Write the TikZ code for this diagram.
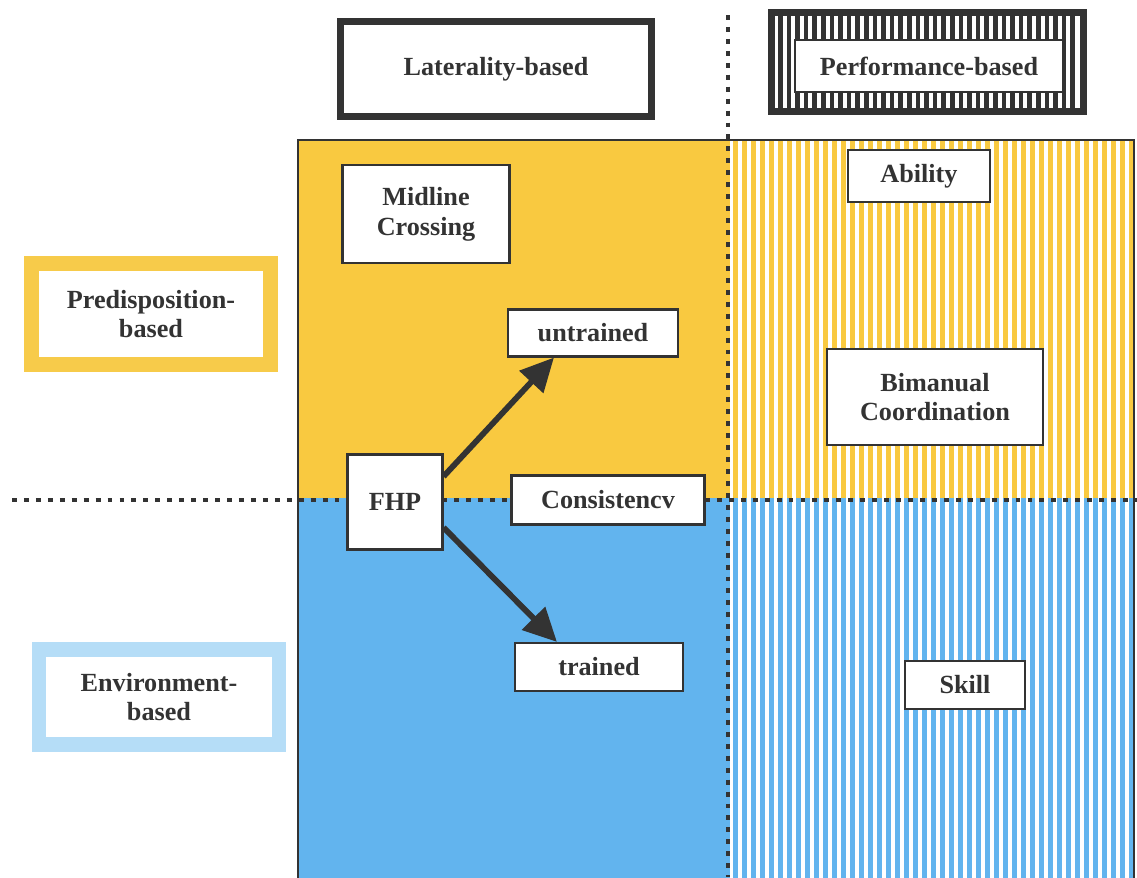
\documentclass[tikz,border=0pt]{standalone}
\usepackage{fontspec}
\setmainfont{Liberation Serif}
\usetikzlibrary{arrows.meta,calc}
\definecolor{yel}{HTML}{F9C940}
\definecolor{blu}{HTML}{62B4EE}
\definecolor{lblu}{HTML}{B5DDF7}
\definecolor{yframe}{HTML}{F7CB4A}
\definecolor{ink}{HTML}{333333}
\tikzset{
  lbl/.style={draw=ink, fill=white, line width=1.2pt, text=ink, align=center,
    font=\fontsize{14.9}{17}\selectfont\bfseries, inner sep=0pt},
  frame/.style={fill=white, line width=8pt, text=ink, align=center,
    font=\fontsize{14.9}{17}\selectfont\bfseries, inner sep=0pt},
  dotline/.style={draw=ink, line width=2.8pt, dash pattern=on 2.8pt off 4pt},
  arr/.style={draw=ink, line width=3.3pt, -{Triangle[length=19pt,width=18pt]}},
}
\begin{document}
\begin{tikzpicture}[x=0.02cm,y=-0.02cm]
\useasboundingbox (0,0) rectangle (1137,877);
\fill[white] (0,0) rectangle (1137,877);
% quadrants
\fill[yel] (298,140) rectangle (730,498);
\fill[blu] (298,498) rectangle (730,880);
\foreach \x in {733,742,...,1133} {
  \fill[yel] (\x,140) rectangle ++(5,358);
  \fill[blu] (\x,498) rectangle ++(5,382);
}
\draw[ink, line width=1pt] (298,880) -- (298,140) -- (1134,140) -- (1134,880);
% dotted dividers
\draw[dotline] (728,15) -- (728,877);
\draw[dotline] (12,500) -- (1137,500);
% header boxes
\node[frame, draw=ink, line width=4pt, minimum width=311*0.02cm, minimum height=95*0.02cm] (lat) at (496,69) {Laterality-based};
\fill[ink] (768,9) rectangle (1087,115);
\fill[white] (775,16) rectangle (1080,108);
\foreach \x in {778,786.6,...,1078} {
  \fill[ink] (\x,16) rectangle ++(4.6,92);
}
\node[lbl, minimum width=268*0.02cm, minimum height=52*0.02cm] (perf) at (929,66) {Performance-based};
% side frames
\node[frame, draw=yframe, minimum width=239*0.02cm, minimum height=101*0.02cm] (pred) at (151,314) {Predisposition-\\based};
\node[frame, draw=lblu, minimum width=240*0.02cm, minimum height=95*0.02cm] (env) at (159,697) {Environment-\\based};
% inner labels
\node[lbl, minimum width=167*0.02cm, minimum height=98*0.02cm] (mid) at (426,214) {Midline\\Crossing};
\node[lbl, minimum width=142*0.02cm, minimum height=52*0.02cm] (abil) at (919,176) {Ability};
\node[lbl, minimum width=170*0.02cm, minimum height=47*0.02cm] (untr) at (593,333) {untrained};
\node[lbl, minimum width=216*0.02cm, minimum height=96*0.02cm] (bim) at (935,397) {Bimanual\\Coordination};
\node[lbl, minimum width=95*0.02cm, minimum height=95*0.02cm] (fhp) at (395,502) {FHP};
\node[lbl, minimum width=193*0.02cm, minimum height=49*0.02cm] (cons) at (608,500) {Consistencv};
\node[lbl, minimum width=168*0.02cm, minimum height=48*0.02cm] (tr) at (599,667) {trained};
\node[lbl, minimum width=120*0.02cm, minimum height=48*0.02cm] (skill) at (965,685) {Skill};
% arrows
\draw[arr] ($(fhp.north east)+(0,23)$) -- ($(untr.south west)+(47,0)$);
\draw[arr] ($(fhp.south east)+(0,-23)$) -- ($(tr.north west)+(43,0)$);
\end{tikzpicture}
\end{document}
